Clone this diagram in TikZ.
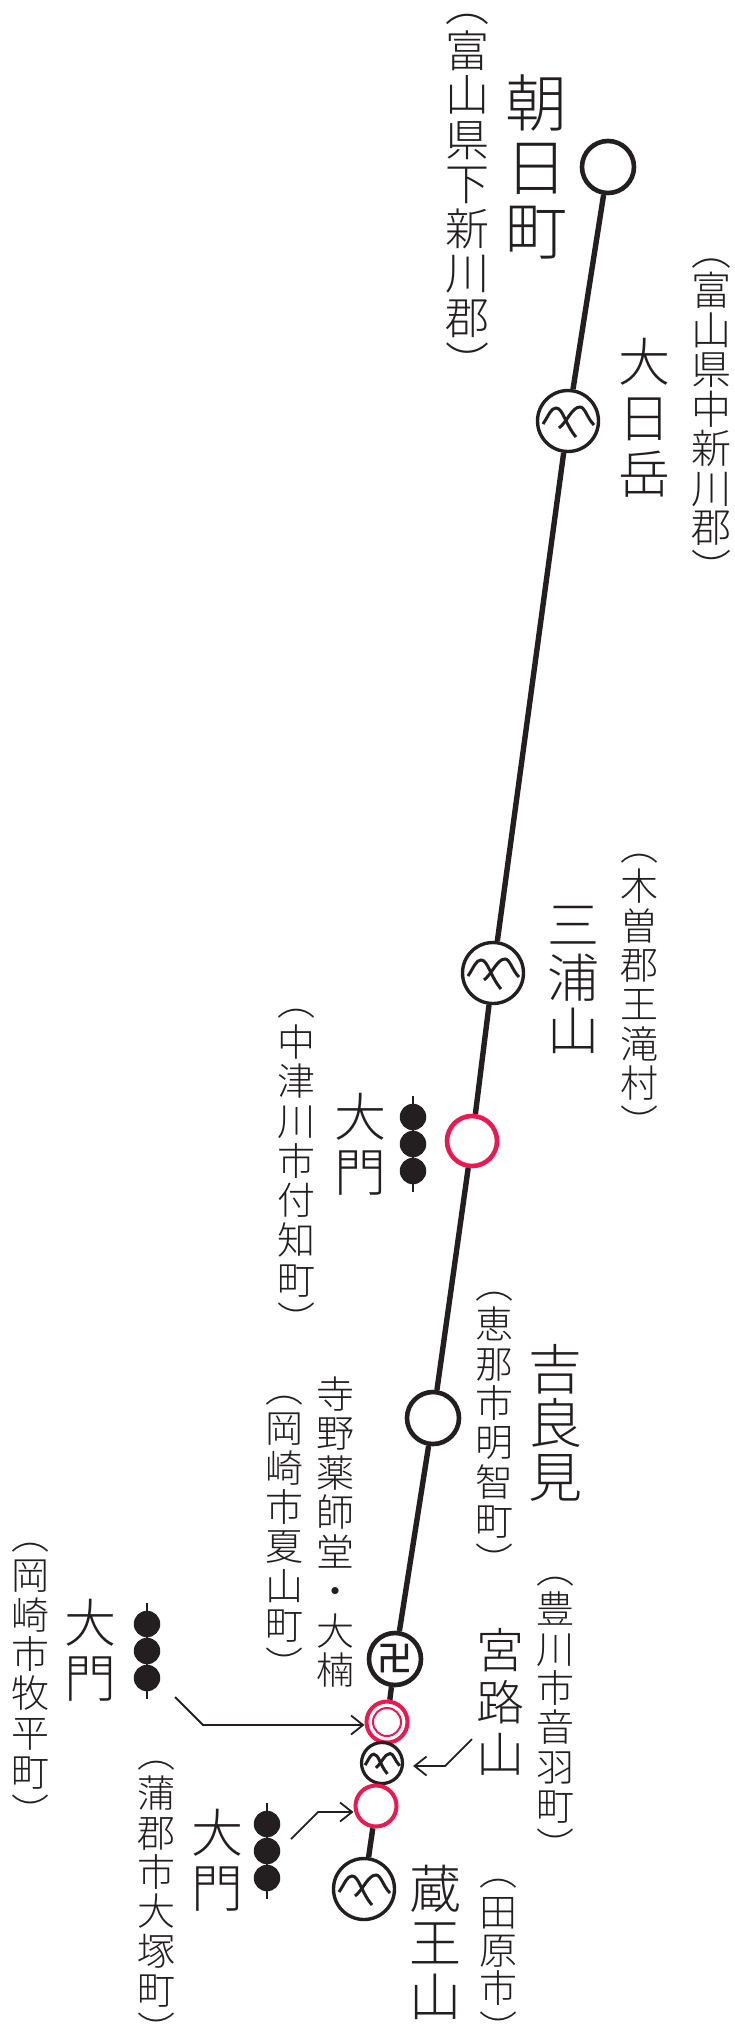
\documentclass[tikz,border=0pt]{standalone}
\usepackage{fontspec}
\setmainfont{Noto Sans CJK JP Light}
\newfontfamily\manjifont{Noto Sans CJK JP Medium}
\usetikzlibrary{arrows.meta}
\definecolor{ink}{HTML}{231F20}
\definecolor{rose}{HTML}{EA1A50}
\newcommand{\namefont}[2]{\fontsize{#1}{#2}\selectfont\lineskiplimit=-100pt }
\tikzstyle{station} = [circle, draw=ink, fill=white, line width=4.6pt, inner sep=0pt, minimum size=52pt, text=ink]
\tikzstyle{peak} = [station, line width=3.4pt, minimum size=61pt]
\tikzstyle{smallpeak} = [station, line width=3.2pt, minimum size=41pt]
\tikzstyle{gate} = [station, draw=rose, minimum size=50pt]
\tikzstyle{smallgate} = [station, draw=rose, line width=4pt, minimum size=41pt]
\tikzstyle{route} = [draw=ink, line width=5.4pt]
\tikzstyle{pointer} = [draw=ink, line width=1.8pt, -{Straight Barb[length=12pt,width=19pt,line width=1.8pt]}]
\tikzstyle{dango} = [circle, fill=ink, inner sep=0pt, minimum size=26.5pt]
\tikzstyle{skewer} = [draw=ink, line width=2pt]
\tikzstyle{label} = [align=center, inner sep=0pt, text=ink]
\tikzset{mountain/.pic={
	\draw [ink, line width=3pt] (-25,3) .. controls (-19,-6) and (-17,-13) .. (-12,-13)
		.. controls (-5,-13) and (-3,3) .. (8,16);
	\draw [ink, line width=3pt] (-9,7) .. controls (-1,1) and (4,-14) .. (12,-14)
		.. controls (17,-14) and (19,-3) .. (26,4);
}}

\begin{document}
\begin{tikzpicture}[x=1pt, y=-1pt]
\useasboundingbox (0,0) rectangle (734,2024);

\node [station] at (608,167) (asahi) {};
\node [peak] at (568,421) (dainichi) {};
\node [peak] at (493,973) (miura) {};
\node [gate] at (472,1141) (daimon1) {};
\node [station] at (433,1418) (kirami) {};
\node [station, font=\namefont{35}{35}\manjifont] at (395,1659) (yakushi) {卍};
\node [smallgate] at (387,1722) (daimon2) {};
\node [smallpeak] at (382,1763) (miyaji) {};
\node [smallgate] at (376,1806) (daimon3) {};
\node [peak] at (364,1889) (zao) {};
\node [circle, draw=rose, line width=2pt, inner sep=0pt, minimum size=28pt] at (daimon2) (daimon2 ring) {};

\path [route] (asahi) -- (dainichi);
\path [route] (dainichi) -- (miura);
\path [route] (miura) -- (daimon1);
\path [route] (daimon1) -- (kirami);
\path [route] (kirami) -- (yakushi);
\path [route] (yakushi) -- (daimon2);
\path [route] (daimon3) -- (zao);

\pic at (dainichi) {mountain};
\pic at (miura) {mountain};
\pic at (zao) {mountain};
\pic [scale=0.68] at (miyaji) {mountain};

%names
\node [label, font=\namefont{62}{64}] at (536,167) (asahi name) {朝\\日\\町};
\node [label, font=\namefont{52}{56}] at (644,418) (dainichi name) {大\\日\\岳};
\node [label, font=\namefont{52}{53}] at (573,980) (miura name) {三\\浦\\山};
\node [label, font=\namefont{52}{55}] at (360,1144) (daimon1 name) {大\\門};
\node [label, font=\namefont{54}{54}] at (555,1423) (kirami name) {吉\\良\\見};
\node [label, font=\namefont{38}{39.5}] at (335,1532) (yakushi name) {寺\\野\\薬\\師\\堂\\・\\大\\楠};
\node [label, font=\namefont{52}{55}] at (90,1650) (daimon2 name) {大\\門};
\node [label, font=\namefont{48}{52}] at (500,1702) (miyaji name) {宮\\路\\山};
\node [label, font=\namefont{52}{55}] at (217,1860) (daimon3 name) {大\\門};
\node [label, font=\namefont{52}{54}] at (435,1942) (zao name) {蔵\\王\\山};

%places
\node [label, font=\namefont{44}{44.5}] at (467,197) (asahi place) {︵\\[1pt]富\\山\\県\\下\\新\\川\\郡\\[1pt]︶};
\node [label, font=\namefont{40}{39.5}] at (711,421) (dainichi place) {︵\\[1pt]富\\山\\県\\中\\新\\川\\郡\\[1pt]︶};
\node [label, font=\namefont{38}{39.3}] at (639,996) (miura place) {︵\\[1pt]木\\曽\\郡\\王\\滝\\村\\[1pt]︶};
\node [label, font=\namefont{38}{39.7}] at (296,1172) (daimon1 place) {︵\\[1pt]中\\津\\川\\市\\付\\知\\町\\[1pt]︶};
\node [label, font=\namefont{38}{39.3}] at (494,1434) (kirami place) {︵\\[1pt]恵\\那\\市\\明\\智\\町\\[1pt]︶};
\node [label, font=\namefont{38}{39.3}] at (284,1538) (yakushi place) {︵\\[1pt]岡\\崎\\市\\夏\\山\\町\\[1pt]︶};
\node [label, font=\namefont{38}{39.3}] at (31,1685) (daimon2 place) {︵\\[1pt]岡\\崎\\市\\牧\\平\\町\\[1pt]︶};
\node [label, font=\namefont{38}{39.3}] at (555,1719) (miyaji place) {︵\\[1pt]豊\\川\\市\\音\\羽\\町\\[1pt]︶};
\node [label, font=\namefont{38}{39.3}] at (156,1903) (daimon3 place) {︵\\[1pt]蒲\\郡\\市\\大\\塚\\町\\[1pt]︶};
\node [label, font=\namefont{38}{38}] at (498,1961) (zao place) {︵\\[3pt]田\\原\\市\\[3pt]︶};

%dumplings
\foreach \x/\y/\n in {413/1144/a, 147/1651/b, 267/1851/c} {
	\draw [skewer] (\x,\y-48) -- (\x,\y+48);
	\node [dango] at (\x,\y-27) (dango\n 1) {};
	\node [dango] at (\x,\y) (dango\n 2) {};
	\node [dango] at (\x,\y+27) (dango\n 3) {};
}

\coordinate (tail2) at (175,1697);
\coordinate (bend2) at (203,1725);
\coordinate (tail3) at (291,1839);
\coordinate (bend3) at (318,1812);
\coordinate (tailm) at (472,1739);
\coordinate (bendm) at (445,1766);

\path [pointer] (tail2) -- (bend2) -- (daimon2.west |- bend2);
\path [pointer] (tail3) -- (bend3) -- (daimon3.west |- bend3);
\path [pointer, shorten >=9pt] (tailm) -- (bendm) -- (miyaji.east |- bendm);

\end{tikzpicture}
\end{document}
